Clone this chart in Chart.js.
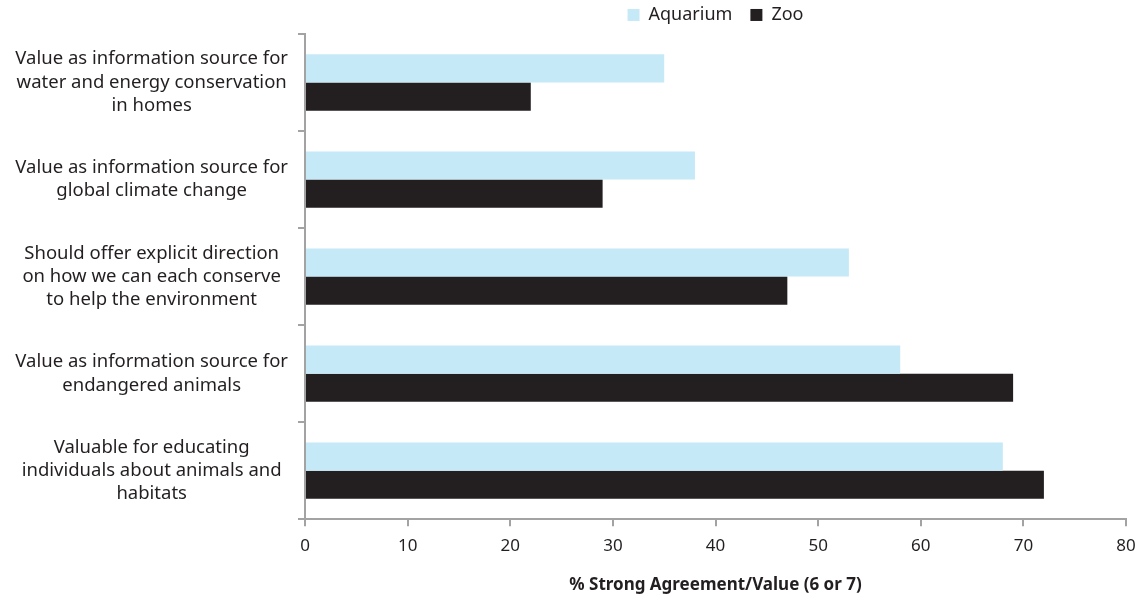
<!DOCTYPE html>
<html>
<head>
<meta charset="utf-8">
<script src="https://cdn.jsdelivr.net/npm/chart.js@4"></script>
<style>
  html, body { margin: 0; padding: 0; background: #fff; overflow: hidden; }
  #wrap { position: relative; top: -11px; width: 1139px; height: 610px; }
</style>
</head>
<body>
<div id="wrap"><canvas id="myCanvas"></canvas></div>
<script>
// data
let categories = [
    ['Value as information source for', 'water and energy conservation', 'in homes'],
    ['Value as information source for', 'global climate change'],
    ['Should offer explicit direction', 'on how we can each conserve', 'to help the environment'],
    ['Value as information source for', 'endangered animals'],
    ['Valuable for educating', 'individuals about animals and', 'habitats']
];
let aquariumValues = [35, 38, 53, 58, 68];
let zooValues = [22, 29, 47, 69, 72];
let xTicks = [0, 10, 20, 30, 40, 50, 60, 70, 80];

let axisGrey = '#a3a3a3';
Chart.defaults.font.family = '"Noto Sans", sans-serif';
Chart.defaults.color = '#231f20';

let data = {
    labels: categories,
    datasets: [{
        label: 'Aquarium',
        data: aquariumValues,
        backgroundColor: '#c6e9f8'
    }, {
        label: 'Zoo',
        data: zooValues,
        backgroundColor: '#231f20'
    }]
};

let options = {
    indexAxis: 'y',
    responsive: true,
    maintainAspectRatio: false,
    animation: false,
    layout: { padding: { top: 0, right: 13, bottom: 4, left: 0 } },
    datasets: { bar: { categoryPercentage: 0.58, barPercentage: 1 } },
    plugins: {
        legend: {
            position: 'top',
            fullSize: false,
            labels: {
                boxWidth: 12, boxHeight: 12,
                font: { size: 18 },
                padding: 4,
                generateLabels: function(chart) {
                    let items = Chart.defaults.plugins.legend.labels.generateLabels(chart);
                    // a bit more room between the two entries
                    items[0].text = items[0].text + '   ';
                    return items;
                }
            }
        },
        tooltip: { enabled: false }
    },
    scales: {
        x: {
            min: 0, max: 80,
            afterBuildTicks: function(scale) {
                scale.ticks = xTicks.map(v => ({ value: v }));
            },
            afterFit: function(scale) { scale.paddingRight = 0; },
            grid: {
                drawOnChartArea: false,
                color: axisGrey,
                lineWidth: 2,
                tickLength: 7
            },
            border: { color: axisGrey, width: 2 },
            ticks: { font: { size: 17 }, padding: 10, maxRotation: 0 },
            title: {
                display: true,
                text: '% Strong Agreement/Value (6 or 7)',
                font: { size: 17, weight: 'bold' },
                padding: { top: 8, bottom: 0 }
            }
        },
        y: {
            grid: {
                drawOnChartArea: false,
                offset: true,
                color: axisGrey,
                lineWidth: 2,
                tickLength: 7
            },
            border: { color: axisGrey, width: 2 },
            ticks: { font: { size: 18.5, lineHeight: 1.26 }, crossAlign: 'center', padding: 10 },
            afterFit: function(scale) { scale.width = 305; }
        }
    }
};

var chrt = document.getElementById('myCanvas');
var myBarChart = new Chart(chrt, {
    type: 'bar',
    data: data,
    options: options
});
</script>
</body>
</html>
